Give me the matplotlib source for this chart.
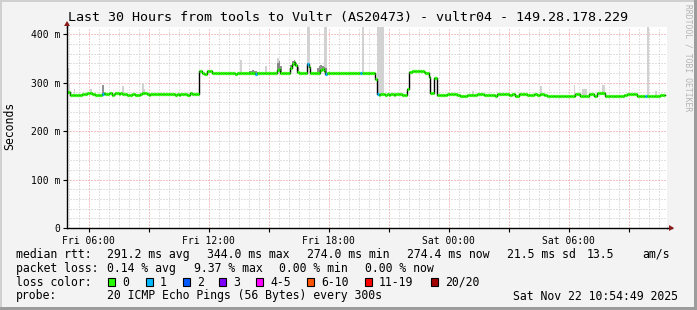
import numpy as np
import matplotlib
matplotlib.use('Agg')
import matplotlib.pyplot as plt
from matplotlib.ticker import MultipleLocator, FuncFormatter
from matplotlib.lines import Line2D
from matplotlib.patches import Rectangle, Polygon

nan = float('nan')

# ---------------- data (5-minute samples, one row per hour, start Fri 04:55) -------------
START_HOUR = 4 + 55 / 60.0   # Fri 04:55
median_rows = [
    [281, 280, 275, 275, 275, 274, 275, 275, 275, 276, 276, 276],
    [278, 278, 278, 276, 276, 275, 275, 275, 275, 277, 278, 277],
    [276, 278, 278, 275, 276, 278, 278, 277, 278, 276, 277, 276],
    [275, 274, 274, 276, 276, 275, 274, 275, 276, 278, 278, 278],
    [277, 275, 276, 276, 276, 276, 276, 276, 276, 276, 276, 276],
    [276, 276, 276, 276, 276, 275, 276, 274, 276, 276, 276, 276],
    [274, 274, 278, 276, 276, 276, 276, 324, 324, 319, 318, 318],
    [324, 324, 324, 320, 319, 319, 319, 319, 320, 319, 319, 319],
    [320, 319, 319, 319, 319, 318, 319, 320, 320, 319, 320, 320],
    [320, 320, 320, 319, 319, 317, 319, 320, 320, 320, 320, 320],
    [320, 319, 319, 320, 320, 320, 326, 328, 320, 319, 319, 319],
    [319, 320, 330, 339, 343, 336, 322, 319, 319, 319, 320, 320],
    [338, 332, 319, 319, 319, 319, 319, 320, 326, 329, 324, 318],
    [319, 319, 320, 319, 320, 319, 319, 319, 319, 320, 319, 319],
    [319, 319, 320, 319, 319, 319, 319, 319, 320, 319, 320, 321],
    [321, 321, 320, 320, 319, 308, 276, 275, 276, 276, 276, 275],
    [276, 275, 276, 276, 275, 276, 276, 276, 276, 275, 275, 275],
    [288, 322, 322, 324, 324, 324, 324, 325, 324, 324, 323, 321],
    [320, 312, 278, 278, 310, 310, 274, 274, 274, 274, 275, 275],
    [276, 276, 277, 277, 277, 276, 274, 274, 272, 272, 272, 272],
    [274, 274, 274, 274, 274, 274, 276, 276, 276, 276, 274, 274],
    [274, 274, 274, 274, 274, 272, 276, 276, 276, 277, 276, 276],
    [276, 274, 274, 276, 276, 272, 272, 276, 277, 277, 277, 277],
    [275, 275, 274, 274, 276, 276, 275, 275, 276, 276, 274, 274],
    [272, 272, 272, 272, 272, 272, 272, 272, 272, 272, 272, 272],
    [272, 272, 272, 272, 272, 276, 276, 276, 273, 272, 272, 272],
    [272, 276, 276, 276, 272, 272, 278, 278, 278, 278, 278, 272],
    [272, 272, 272, 272, 272, 272, 272, 272, 272, 272, 275, 275],
    [276, 276, 276, 276, 277, 277, 272, 272, 272, 272, 272, 272],
    [272, 272, 272, 272, 272, 272, 272, 273, 274, 274, 274, nan],
]
# samples with packet loss (loss colour bin index)
loss_idx = [21, 113, 144, 155, 176, 186, 347]
loss_bin = [1, 1, 1, 1, 1, 1, 1]

# light smoke (ping spread) tops
smoke_idx = [0, 1, 4, 14, 33, 45, 46, 104, 119, 126, 127, 144, 145, 154, 155, 177,
             186, 187, 188, 189, 243, 284, 304, 309, 310, 311, 321, 322, 348, 353]
smoke_top = [330, 300, 286, 286, 293, 299, 286, 346, 334, 350, 338, 420, 420, 420, 420, 420,
             420, 420, 420, 420, 283, 293, 295, 286, 286, 286, 295, 295, 420, 283]
# darker smoke tops
dark_idx = [21, 109, 110, 111, 112, 113, 114, 126, 127, 128, 134, 135, 136, 137, 138,
            144, 150, 151, 152, 153, 154, 155]
dark_top = [295, 325, 324, 326, 325, 324, 323, 340, 345, 334, 336, 344, 346, 340, 332,
            341, 330, 334, 336, 335, 333, 330]

loss_labels = ['0', '1', '2', '3', '4-5', '6-10', '11-19', '20/20']
loss_colors = ['#26ff00', '#00b8ff', '#0059ff', '#7e00ff', '#ff00ff', '#ff5500',
               '#ff0000', '#a10000']

stat_rtt = ['291.2 ms avg', '344.0 ms max', '274.0 ms min', '274.4 ms now',
            '21.5 ms sd', '13.5', 'am/s']
stat_loss = ['0.14 % avg', '9.37 % max', '0.00 % min', '0.00 % now']
probe_text = '20 ICMP Echo Pings (56 Bytes) every 300s'
date_text = 'Sat Nov 22 10:54:49 2025'
title = 'Last 30 Hours from tools to Vultr (AS20473) - vultr04 - 149.28.178.229'

# ---------------- figure ----------------
W, H = 697, 310
MONO = 'DejaVu Sans Mono'
BG = '#f3f3f3'
fig = plt.figure(figsize=(W / 100, H / 100), dpi=100, facecolor=BG)


def fx(x):
    return x / W


def fy(y):
    return 1 - y / H


ax = fig.add_axes([fx(67), fy(228), 600 / W, 201 / H])
ax.set_facecolor('white')

median = np.array([v for r in median_rows for v in r], dtype=float)
n = len(median)
step = 1 / 12.0
left = np.arange(n) * step

ax.set_xlim(0, 30)
ax.set_ylim(0, 415)

# grid
ax.xaxis.set_major_locator(MultipleLocator(3, offset=1 + 5 / 60))
ax.xaxis.set_minor_locator(MultipleLocator(0.5, offset=5 / 60))
ax.yaxis.set_major_locator(MultipleLocator(100))
ax.yaxis.set_minor_locator(MultipleLocator(20))
ax.grid(which='minor', color='#c4c4c4', lw=0.72, ls=(0, (1, 2)))
ax.grid(which='major', color='#f08a8a', lw=0.72, ls=(0, (1, 2)))
ax.set_axisbelow(True)

# smoke
sm_i = np.array(smoke_idx)
ax.bar(left[sm_i], np.array(smoke_top) - median[sm_i], bottom=median[sm_i],
       width=step, align='edge', color='#d2d2d2', lw=0, zorder=2)
dk_i = np.array(dark_idx)
ax.bar(left[dk_i], np.array(dark_top) - median[dk_i], bottom=median[dk_i],
       width=step, align='edge', color='#6e6e6e', lw=0, zorder=2.5, alpha=0.75)

# median: black step connector + loss-coloured segments
valid = ~np.isnan(median)
xs = np.append(left[valid], left[valid][-1] + step)
ys = np.append(median[valid], median[valid][-1])
ax.step(xs, ys, where='post', color='black', lw=1.0, zorder=3)
cols = [loss_colors[0]] * n
for i, b in zip(loss_idx, loss_bin):
    cols[i] = loss_colors[b]
ax.hlines(median[valid], left[valid], left[valid] + step,
          colors=[c for c, v in zip(cols, valid) if v], lw=2.3, zorder=4,
          capstyle='butt')

# axes styling
for s in ['top', 'right']:
    ax.spines[s].set_visible(False)
for s in ['left', 'bottom']:
    ax.spines[s].set_color('black')
    ax.spines[s].set_linewidth(1.0)
    ax.spines[s].set_zorder(5)


def xfmt(x, pos):
    h = START_HOUR + x
    hh = int(round(h)) % 24
    if hh % 6 != 0:
        return ''
    day = 'Fri' if h < 24 else 'Sat'
    return f'{day} {hh:02d}:00'


def yfmt(v, pos):
    return '0' if v == 0 else f'{int(v)} m'


ax.xaxis.set_major_formatter(FuncFormatter(xfmt))
ax.yaxis.set_major_formatter(FuncFormatter(yfmt))
ax.tick_params(axis='both', which='major', labelsize=7, length=3, width=0.8,
               color='black', pad=2)
ax.tick_params(axis='both', which='minor', length=0)
ax.tick_params(axis='x', pad=3)
for lab in ax.get_xticklabels() + ax.get_yticklabels():
    lab.set_family(MONO)

# axis extensions with arrows
ax.add_line(Line2D([1.0, 1.0085], [0, 0], transform=ax.transAxes, color='black',
                   lw=1.0, clip_on=False))
ax.add_line(Line2D([0, 0], [1.0, 1.02], transform=ax.transAxes, color='black',
                   lw=1.0, clip_on=False))
fig.patches.append(Polygon([[fx(669), fy(225)], [fx(669), fy(231)], [fx(674), fy(228)]],
                           closed=True, transform=fig.transFigure,
                           facecolor='#8b1a1a', edgecolor='none'))
fig.patches.append(Polygon([[fx(64), fy(26)], [fx(70), fy(26)], [fx(67), fy(21)]],
                           closed=True, transform=fig.transFigure,
                           facecolor='#8b1a1a', edgecolor='none'))

# texts
fig.text(fx(348.5), fy(18), title, family=MONO, fontsize=9.6, ha='center', va='center')
fig.text(fx(10), fy(126), 'Seconds', family=MONO, fontsize=8.3, rotation=90,
         ha='center', va='center')
fig.text(fx(688), fy(58), 'RRDTOOL / TOBI OETIKER', family=MONO, fontsize=5.8,
         rotation=270, ha='center', va='center', color='#b4b4b4')

LF = 8.3
row_y = [254.3, 268.2, 282.2, 296.0]
fig.text(fx(16), fy(row_y[0]), 'median rtt:', family=MONO, fontsize=LF, va='center')
for s, x in zip(stat_rtt, [107, 207, 307, 407, 507, 587, 642]):
    fig.text(fx(x), fy(row_y[0]), s, family=MONO, fontsize=LF, va='center')
fig.text(fx(16), fy(row_y[1]), 'packet loss:', family=MONO, fontsize=LF, va='center')
for s, x in zip(stat_loss, [107, 194, 279, 365]):
    fig.text(fx(x), fy(row_y[1]), s, family=MONO, fontsize=LF, va='center')
fig.text(fx(16), fy(row_y[2]), 'loss color:', family=MONO, fontsize=LF, va='center')
box_x = [108, 146, 183, 219, 256, 307, 365, 431]
for lab, c, bx in zip(loss_labels, loss_colors, box_x):
    fig.patches.append(Rectangle((fx(bx), fy(row_y[2] + 4)), 7 / W, 8 / H,
                                 transform=fig.transFigure, facecolor=c,
                                 edgecolor='black', lw=0.8))
    fig.text(fx(bx + 14), fy(row_y[2]), lab, family=MONO, fontsize=LF, va='center')
fig.text(fx(16), fy(row_y[3]), 'probe:', family=MONO, fontsize=LF, va='center')
fig.text(fx(107), fy(row_y[3]), probe_text, family=MONO, fontsize=LF, va='center')
fig.text(fx(513), fy(row_y[3]), date_text, family=MONO, fontsize=LF, va='center')

# frame (3d-ish border)
fig.patches.append(Rectangle((0, fy(2)), 1, 2 / H, transform=fig.transFigure,
                             facecolor='#d0d0d0', edgecolor='none'))
fig.patches.append(Rectangle((0, 0), 2 / W, 1, transform=fig.transFigure,
                             facecolor='#d0d0d0', edgecolor='none'))
fig.patches.append(Rectangle((0, 0), 1, 3 / H, transform=fig.transFigure,
                             facecolor='#9c9c9c', edgecolor='none'))
fig.patches.append(Rectangle((fx(694), 0), 3 / W, 1, transform=fig.transFigure,
                             facecolor='#9c9c9c', edgecolor='none'))

fig.savefig('out.png', dpi=100, facecolor=BG)
